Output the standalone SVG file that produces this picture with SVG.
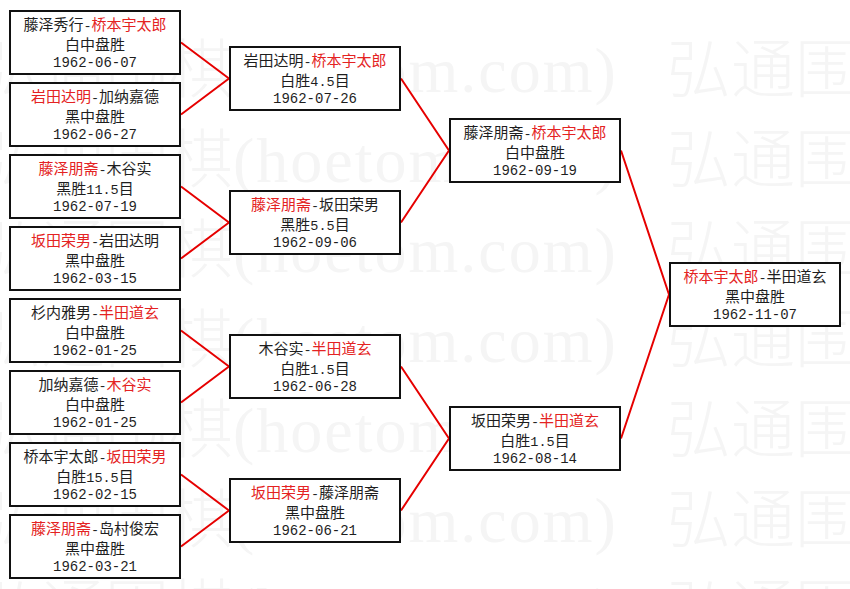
<svg xmlns="http://www.w3.org/2000/svg" xmlns:xlink="http://www.w3.org/1999/xlink" width="850" height="589" viewBox="0 0 850 589">
<style>
.box{fill:#fff;stroke:#111;stroke-width:2}
.t{font-family:"Noto Sans CJK SC","Noto Sans CJK JP",sans-serif;font-size:15px;fill:#1e1e1e;text-anchor:middle}
.m{font-family:"Liberation Mono","DejaVu Sans Mono",monospace;font-size:13.5px}
.d{font-family:"Liberation Mono","DejaVu Sans Mono",monospace;font-size:14px}
.r{fill:#e42222}
.link{stroke:#e60000;stroke-width:2;fill:none}
.wm{font-family:"Noto Sans CJK SC",sans-serif;font-size:64px;font-weight:300;fill:#f5f5f5}
.wl{font-family:"Liberation Serif",serif;letter-spacing:2px}
</style>
<defs>
<text id="wmrow" class="wm">弘通围棋<tspan class="wl">(hoetom.com)</tspan></text>
</defs>
<rect width="850" height="589" fill="#fff"/>
<g id="watermark">
<use xlink:href="#wmrow" x="-23" y="92"/><use xlink:href="#wmrow" x="667" y="92"/>
<use xlink:href="#wmrow" x="-23" y="182"/><use xlink:href="#wmrow" x="667" y="182"/>
<use xlink:href="#wmrow" x="-23" y="272"/><use xlink:href="#wmrow" x="667" y="272"/>
<use xlink:href="#wmrow" x="-23" y="362"/><use xlink:href="#wmrow" x="667" y="362"/>
<use xlink:href="#wmrow" x="-23" y="452"/><use xlink:href="#wmrow" x="667" y="452"/>
<use xlink:href="#wmrow" x="-23" y="542"/><use xlink:href="#wmrow" x="667" y="542"/>
<use xlink:href="#wmrow" x="-23" y="632"/><use xlink:href="#wmrow" x="667" y="632"/>
</g>
<g id="connectors">
<path class="link" d="M181,42.5 L229,78.5 M181,114.5 L229,78.5"/>
<path class="link" d="M181,186.5 L229,222.5 M181,258.5 L229,222.5"/>
<path class="link" d="M181,330.5 L229,366.5 M181,402.5 L229,366.5"/>
<path class="link" d="M181,474.5 L229,510.5 M181,546.5 L229,510.5"/>
<path class="link" d="M401,78.5 L449,150.5 M401,222.5 L449,150.5"/>
<path class="link" d="M401,366.5 L449,438.5 M401,510.5 L449,438.5"/>
<path class="link" d="M621,150.5 L669,294.5 M621,438.5 L669,294.5"/>
</g>
<g id="r1m1"><rect class="box" x="10" y="11" width="170" height="63"/>
<text class="t" x="95" y="30">藤泽秀行<tspan class="m">-</tspan><tspan class="r">桥本宇太郎</tspan></text>
<text class="t" x="95" y="50">白中盘胜</text>
<text class="t d" x="95" y="67">1962-06-07</text></g>
<g id="r1m2"><rect class="box" x="10" y="83" width="170" height="63"/>
<text class="t" x="95" y="102"><tspan class="r">岩田达明</tspan><tspan class="m">-</tspan>加纳嘉德</text>
<text class="t" x="95" y="122">黑中盘胜</text>
<text class="t d" x="95" y="139">1962-06-27</text></g>
<g id="r1m3"><rect class="box" x="10" y="155" width="170" height="63"/>
<text class="t" x="95" y="174"><tspan class="r">藤泽朋斋</tspan><tspan class="m">-</tspan>木谷实</text>
<text class="t" x="95" y="194">黑胜<tspan class="m">11.5</tspan>目</text>
<text class="t d" x="95" y="211">1962-07-19</text></g>
<g id="r1m4"><rect class="box" x="10" y="227" width="170" height="63"/>
<text class="t" x="95" y="246"><tspan class="r">坂田荣男</tspan><tspan class="m">-</tspan>岩田达明</text>
<text class="t" x="95" y="266">黑中盘胜</text>
<text class="t d" x="95" y="283">1962-03-15</text></g>
<g id="r1m5"><rect class="box" x="10" y="299" width="170" height="63"/>
<text class="t" x="95" y="318">杉内雅男<tspan class="m">-</tspan><tspan class="r">半田道玄</tspan></text>
<text class="t" x="95" y="338">白中盘胜</text>
<text class="t d" x="95" y="355">1962-01-25</text></g>
<g id="r1m6"><rect class="box" x="10" y="371" width="170" height="63"/>
<text class="t" x="95" y="390">加纳嘉德<tspan class="m">-</tspan><tspan class="r">木谷实</tspan></text>
<text class="t" x="95" y="410">白中盘胜</text>
<text class="t d" x="95" y="427">1962-01-25</text></g>
<g id="r1m7"><rect class="box" x="10" y="443" width="170" height="63"/>
<text class="t" x="95" y="462">桥本宇太郎<tspan class="m">-</tspan><tspan class="r">坂田荣男</tspan></text>
<text class="t" x="95" y="482">白胜<tspan class="m">15.5</tspan>目</text>
<text class="t d" x="95" y="499">1962-02-15</text></g>
<g id="r1m8"><rect class="box" x="10" y="515" width="170" height="63"/>
<text class="t" x="95" y="534"><tspan class="r">藤泽朋斋</tspan><tspan class="m">-</tspan>岛村俊宏</text>
<text class="t" x="95" y="554">黑中盘胜</text>
<text class="t d" x="95" y="571">1962-03-21</text></g>
<g id="r2m1"><rect class="box" x="230" y="47" width="170" height="63"/>
<text class="t" x="315" y="66">岩田达明<tspan class="m">-</tspan><tspan class="r">桥本宇太郎</tspan></text>
<text class="t" x="315" y="86">白胜<tspan class="m">4.5</tspan>目</text>
<text class="t d" x="315" y="103">1962-07-26</text></g>
<g id="r2m2"><rect class="box" x="230" y="191" width="170" height="63"/>
<text class="t" x="315" y="210"><tspan class="r">藤泽朋斋</tspan><tspan class="m">-</tspan>坂田荣男</text>
<text class="t" x="315" y="230">黑胜<tspan class="m">5.5</tspan>目</text>
<text class="t d" x="315" y="247">1962-09-06</text></g>
<g id="r2m3"><rect class="box" x="230" y="335" width="170" height="63"/>
<text class="t" x="315" y="354">木谷实<tspan class="m">-</tspan><tspan class="r">半田道玄</tspan></text>
<text class="t" x="315" y="374">白胜<tspan class="m">1.5</tspan>目</text>
<text class="t d" x="315" y="391">1962-06-28</text></g>
<g id="r2m4"><rect class="box" x="230" y="479" width="170" height="63"/>
<text class="t" x="315" y="498"><tspan class="r">坂田荣男</tspan><tspan class="m">-</tspan>藤泽朋斋</text>
<text class="t" x="315" y="518">黑中盘胜</text>
<text class="t d" x="315" y="535">1962-06-21</text></g>
<g id="r3m1"><rect class="box" x="450" y="119" width="170" height="63"/>
<text class="t" x="535" y="138">藤泽朋斋<tspan class="m">-</tspan><tspan class="r">桥本宇太郎</tspan></text>
<text class="t" x="535" y="158">白中盘胜</text>
<text class="t d" x="535" y="175">1962-09-19</text></g>
<g id="r3m2"><rect class="box" x="450" y="407" width="170" height="63"/>
<text class="t" x="535" y="426">坂田荣男<tspan class="m">-</tspan><tspan class="r">半田道玄</tspan></text>
<text class="t" x="535" y="446">白胜<tspan class="m">1.5</tspan>目</text>
<text class="t d" x="535" y="463">1962-08-14</text></g>
<g id="final"><rect class="box" x="670" y="263" width="170" height="63"/>
<text class="t" x="755" y="282"><tspan class="r">桥本宇太郎</tspan><tspan class="m">-</tspan>半田道玄</text>
<text class="t" x="755" y="302">黑中盘胜</text>
<text class="t d" x="755" y="319">1962-11-07</text></g>
</svg>
